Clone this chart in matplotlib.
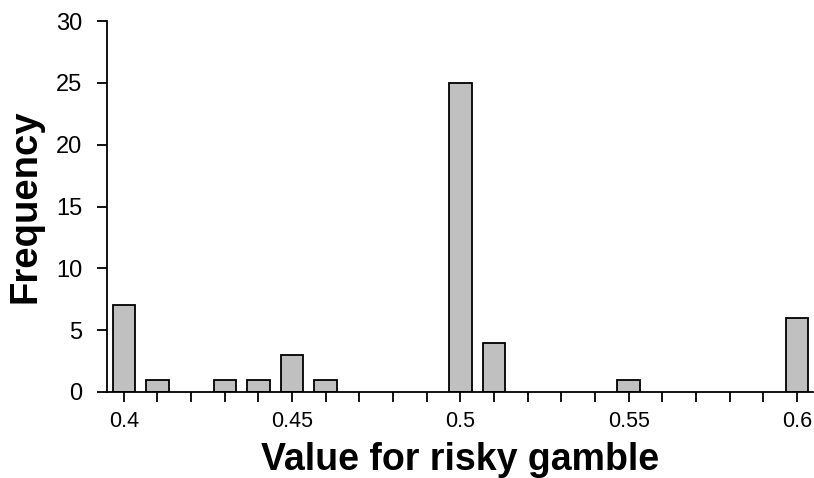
import numpy as np
import matplotlib.pyplot as plt

plt.rcParams['font.family'] = ['Liberation Sans', 'DejaVu Sans']

values = [0.40, 0.41, 0.43, 0.44, 0.45, 0.46, 0.50, 0.51, 0.55, 0.60]
counts = [7, 1, 1, 1, 3, 1, 25, 4, 1, 6]
tick_vals = np.round(np.arange(0.40, 0.6001, 0.01), 2)
tick_labels = ['0.4', '0.45', '0.5', '0.55', '0.6']

fig = plt.figure(figsize=(8.14, 4.78), dpi=100)
ax = fig.add_axes([107/814, 86/478, 706/814, 371/478])

ax.bar(values, counts, width=0.0067, color='#c0c0c0', edgecolor='black', linewidth=1.3)

ax.set_xlim(0.395, 0.6048)
ax.set_ylim(0, 30)
ax.set_yticks(range(0, 31, 5))
ax.set_xticks(tick_vals)
ax.set_xticklabels([f'{v:g}' if f'{v:g}' in tick_labels else '' for v in tick_vals])
ax.tick_params(axis='y', labelsize=17, length=7, width=1.3, direction='out', pad=11)
ax.tick_params(axis='x', labelsize=15.5, length=7, width=1.3, direction='out', pad=7)

for s in ['top', 'right']:
    ax.spines[s].set_visible(False)
for s in ['left', 'bottom']:
    ax.spines[s].set_linewidth(1.3)

ax.set_ylabel('Frequency', fontsize=27.5, fontweight='bold', va='center')
ax.set_xlabel('Value for risky gamble', fontsize=27, fontweight='bold', va='center')
ax.yaxis.set_label_coords(-0.115, 0.5)
ax.xaxis.set_label_coords(0.5, -0.183)

fig.savefig('out.png', dpi=100)
